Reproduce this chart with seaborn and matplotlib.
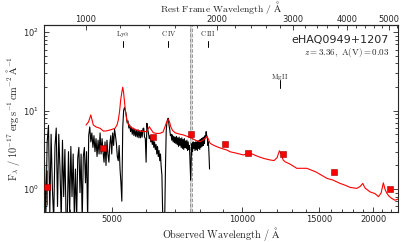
import numpy as np
import pandas as pd
import matplotlib
matplotlib.use("Agg")
import matplotlib.pyplot as plt
import seaborn as sns
from matplotlib.ticker import FixedLocator, MultipleLocator, NullFormatter, FuncFormatter

# ---------------- data ----------------
z_qso = 3.36

# observed spectrum (black), sampled every 25 A from 3500 to 8400 A
spec_wave = list(range(3500, 8425, 25))
spec_flux = [
    2.2, 0.45, 4.0, 6.5, 0.5, 5.0, 1.0, 0.4, 3.5, 6.0, 0.6, 5.0, 1.8, 0.4, 4.2, 0.8, 3.2, 0.4, 0.45, 3.0, 0.5,  # 3500-4000
    3.5, 0.8, 2.8, 0.45, 1.8, 0.4, 2.5, 3.4, 0.9, 2.8, 0.4, 2.6, 3.4, 1.2, 3.0, 0.4,  # 4025-4400
    4.8, 6.2, 4.0, 5.2, 3.4, 4.8, 3.0, 4.4, 2.6, 4.2, 2.8,  # 4425-4675
    5.2, 2.8, 4.4, 3.0, 2.2, 4.0, 2.0, 4.2, 2.8, 2.2, 3.8, 4.8, 2.8,  # 4700-5000
    5.2, 3.6, 5.8, 4.8, 3.8, 2.6, 2.3, 3.6, 1.8, 1.2, 0.7,  # 5025-5275
    6.0, 10.0, 11.0, 10.0, 8.8, 7.0, 7.4, 6.0, 6.6, 5.4, 6.2, 5.0, 6.0, 4.8, 5.8, 4.7, 5.6, 4.6, 5.7, 4.5, 5.5,  # 5300-5800
    4.5, 5.6, 4.6, 5.9, 6.0, 4.6, 4.4, 2.2, 6.9, 5.8, 5.2, 4.4,  # 5825-6100
    4.8, 4.0, 4.4, 3.7, 4.3, 3.4, 4.0, 3.2, 3.7, 2.8, 3.5, 2.6, 3.1, 2.3, 2.8, 1.9, 1.5, 0.5, 0.45, 0.45, 0.5,  # 6125-6625
    2.0, 5.5, 7.0, 7.8, 8.0, 6.5, 5.8, 4.8, 5.0, 4.2, 4.9, 4.0, 4.7, 3.9, 4.6,  # 6650-7000
    3.8, 4.7, 3.7, 4.5, 3.5, 4.6, 3.6, 4.4, 3.4, 4.5, 3.3, 4.3, 3.2, 4.4, 3.4, 4.1,  # 7025-7400
    3.3, 4.2, 3.1, 4.0, 3.2, 3.6, 2.2, 1.3, 2.6, 3.8, 3.0, 4.0, 3.3, 3.9, 3.1, 4.0,  # 7425-7800
    3.2, 4.0, 3.1, 4.1, 3.3, 4.2, 3.2, 4.3, 3.4, 4.4, 3.5, 4.5, 3.6, 4.6, 3.8, 4.8,  # 7825-8200
    4.6, 5.4, 4.8, 4.6, 3.6, 4.0, 2.8, 1.8,  # 8225-8400
]

# quasar model (red)
model_wave = [4362, 4420, 4474, 4504, 4535, 4600, 4700, 4780, 4850, 4955, 5035, 5088, 5142, 5177,
              5210, 5243, 5272, 5300, 5323, 5345, 5374, 5415, 5460, 5510, 5597, 5709, 5809, 5902,
              6019, 6062, 6104, 6150, 6235, 6358, 6459, 6563, 6633, 6687, 6751, 6795, 6838, 6904,
              6997, 7147, 7311, 7477, 7645, 7822, 7991, 8119, 8226, 8279, 8337, 8425, 8560, 8729,
              8964, 9204, 9367, 9705, 10053, 10292, 10530, 10870, 11220, 11583, 11831, 12021, 12170,
              12280, 12410, 12540, 12876, 13340, 14070, 14780, 15650, 16180, 16790, 17245, 17710,
              18350, 18670, 18935, 19165, 19680, 20210, 20570, 20865, 21120, 21310, 21500, 21765,
              22080, 22470, 22830]
model_flux = [6.56, 7.17, 8.8, 7.6, 6.56, 6.2, 5.96, 5.5, 5.5, 5.67, 5.83, 5.96, 6.56, 7.6,
              9.6, 13.7, 16.8, 19.9, 17.3, 13.7, 10.2, 7.6, 6.76, 6.24, 5.92, 5.67, 5.5, 5.43,
              5.4, 5.83, 6.24, 5.83, 5.23, 5.11, 5.14, 5.34, 6.24, 7.17, 7.77, 7.17, 6.24, 5.58,
              5.23, 5.04, 4.9, 4.68, 4.44, 4.16, 4.02, 4.23, 4.48, 4.66, 4.41, 3.83, 3.65, 3.47,
              3.29, 3.15, 2.99, 2.86, 2.72, 2.86, 2.8, 2.6, 2.45, 2.35, 2.31, 2.52, 3.08,
              2.8, 2.35, 2.23, 2.08, 1.84, 1.84, 1.65, 1.37, 1.30, 1.18, 1.12, 1.05,
              1.02, 1.08, 1.18, 1.03, 0.92, 0.875, 0.80, 0.89, 1.20, 0.99, 0.89, 0.81,
              0.76, 0.72, 0.745]

# photometry (red squares)
phot_wave = [3548, 4764, 6215, 7616, 9120, 10290, 12430, 16260, 21880]
phot_flux = [1.06, 3.31, 4.66, 5.0, 3.72, 2.91, 2.77, 1.63, 0.99]
phot_err_lo = [0.44, 0, 0, 0, 0, 0, 0, 0, 0]
phot_err_hi = [0.69, 0, 0, 0, 0, 0, 0, 0, 0]

# emission line markers (rest wavelength)
line_names = [r"$\mathrm{Ly\alpha}$", r"$\mathrm{C\,IV}$", r"$\mathrm{C\,III}$", r"$\mathrm{Mg\,II}$"]
line_rest = [1216, 1549, 1909, 2798]
line_high = [True, True, True, False]

bottom_ticks = [5000, 10000, 15000, 20000]
top_ticks = [1000, 2000, 3000, 4000, 5000]

# ---------------- style ----------------
sns.set_style("ticks", {"xtick.direction": "in", "ytick.direction": "in"})
plt.rcParams["font.family"] = ["DejaVu Sans"]
plt.rcParams["mathtext.fontset"] = "cm"

fig = plt.figure(figsize=(4.07, 2.42), dpi=100)
ax = fig.add_axes([0.108, 0.124, 0.870, 0.773])

spec_df = pd.DataFrame({"wave": spec_wave, "flux": spec_flux})
model_df = pd.DataFrame({"wave": model_wave, "flux": model_flux})
phot_df = pd.DataFrame({"wave": phot_wave, "flux": phot_flux})

# telluric band
ax.axvspan(7585, 7670, color="0.85", lw=0, zorder=0)
ax.axvline(7585, color="0.6", lw=0.7, ls="--", zorder=0.5)
ax.axvline(7670, color="0.6", lw=0.7, ls="--", zorder=0.5)

sns.lineplot(data=spec_df, x="wave", y="flux", ax=ax, color="black", lw=0.8,
             estimator=None, sort=False, zorder=2)
sns.lineplot(data=model_df, x="wave", y="flux", ax=ax, color="red", lw=0.8,
             estimator=None, sort=False, zorder=3)
ax.errorbar(phot_wave, phot_flux, yerr=[phot_err_lo, phot_err_hi], fmt="none",
            ecolor="red", elinewidth=0.8, zorder=4)
sns.scatterplot(data=phot_df, x="wave", y="flux", ax=ax, marker="s", s=22,
                color="red", edgecolor="#990000", linewidth=0.4, zorder=5)

ax.set_xscale("log")
ax.set_yscale("log")
ax.set_xlim(3490, 22830)
ax.set_ylim(0.51, 124)

ax.xaxis.set_major_locator(FixedLocator(bottom_ticks))
ax.xaxis.set_major_formatter(FuncFormatter(lambda v, p: f"{int(round(v))}"))
ax.xaxis.set_minor_locator(MultipleLocator(1000))
ax.xaxis.set_minor_formatter(NullFormatter())
ax.tick_params(axis="both", which="both", direction="in", labelsize=6,
               top=False, right=True, width=0.6)
ax.tick_params(axis="x", which="both", pad=2.5)
ax.tick_params(which="major", length=3.5)
ax.tick_params(which="minor", length=2)
for s in ax.spines.values():
    s.set_linewidth(0.8)

ax.set_xlabel(r"$\mathrm{Observed\ Wavelength\ /\ \AA}$", fontsize=7.4, labelpad=0.5)
ax.set_ylabel(r"$\mathrm{F_{\lambda}\ /\ 10^{-17}\ erg\,s^{-1}\,cm^{-2}\,\AA^{-1}}$", fontsize=7.4)
ax.yaxis.set_label_coords(-0.063, 0.5)

secax = ax.secondary_xaxis("top", functions=(lambda x: x / (1 + z_qso), lambda x: x * (1 + z_qso)))
secax.xaxis.set_major_locator(FixedLocator(top_ticks))
secax.xaxis.set_major_formatter(FuncFormatter(lambda v, p: f"{int(round(v))}"))
secax.xaxis.set_minor_locator(MultipleLocator(200))
secax.xaxis.set_minor_formatter(NullFormatter())
secax.tick_params(which="both", direction="in", labelsize=6, width=0.6, pad=0.6)
secax.tick_params(which="major", length=3.5)
secax.tick_params(which="minor", length=2)
secax.set_xlabel(r"$\mathrm{Rest\ Frame\ Wavelength\ /\ \AA}$", fontsize=7.0, labelpad=2.3)

for name, rest, high in zip(line_names, line_rest, line_high):
    obs = rest * (1 + z_qso)
    if high:
        ytxt, y0, y1 = 95, 65, 77
    else:
        ytxt, y0, y1 = 27, 19.5, 24.5
    ax.text(obs, ytxt, name, ha="center", va="center", fontsize=5)
    ax.plot([obs, obs], [y0, y1], color="black", lw=0.7)

ax.text(0.975, 0.92, "eHAQ0949+1207", transform=ax.transAxes, ha="right", va="center",
        fontsize=8)
ax.text(0.975, 0.855, r"$z = 3.36,\ \mathrm{A(V)} = 0.03$", transform=ax.transAxes,
        ha="right", va="center", fontsize=6.5)

fig.savefig("out.png", dpi=100)
